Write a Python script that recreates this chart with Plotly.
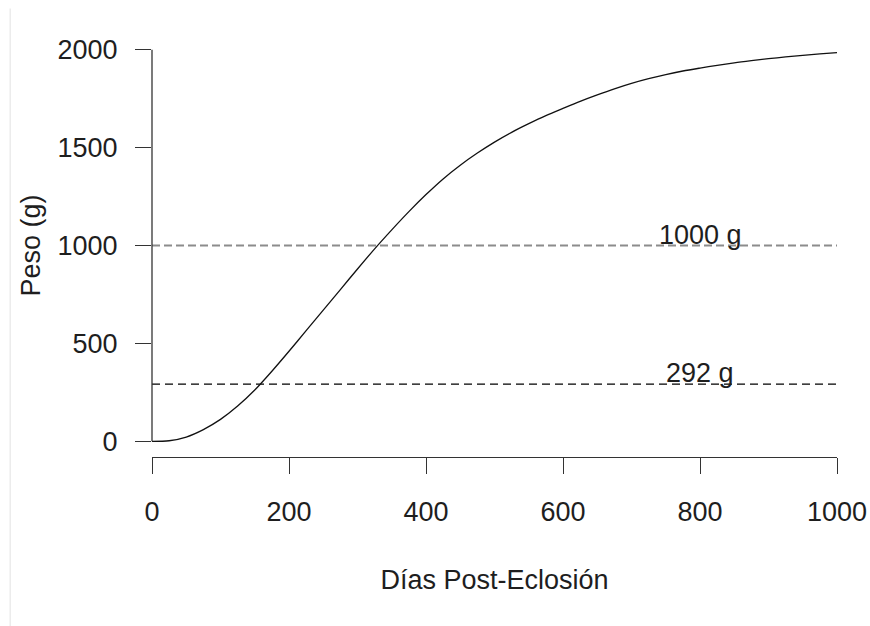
import plotly.graph_objects as go

# Growth curve: body weight (g) by days after hatching
dias = [0, 25, 50, 75, 100, 125, 150, 175, 200, 225, 250, 275, 300, 325, 350,
        375, 400, 425, 450, 475, 500, 525, 550, 575, 600, 625, 650, 675, 700,
        725, 750, 775, 800, 825, 850, 875, 900, 925, 950, 975, 1000]
peso = [0, 3, 22, 60, 112, 180, 262, 358, 460, 565, 670, 775, 880, 983, 1080,
        1173, 1260, 1340, 1410, 1472, 1528, 1578, 1622, 1663, 1700, 1736, 1769, 1800, 1828,
        1852, 1873, 1891, 1906, 1920, 1933, 1944, 1954, 1963, 1971, 1978, 1985]

# Reference weights marked with dashed lines
niveles = [1000, 292]
etiquetas = ["1000 g", "292 g"]
colores_nivel = ["#8c8c8c", "#000000"]
anchos_nivel = [2, 1.1]
guiones_nivel = ["8px,4px", "8px,5px"]
x_etiqueta = 800

x_ticks = [0, 200, 400, 600, 800, 1000]
y_ticks = [0, 500, 1000, 1500, 2000]

FONT = "Liberation Sans, Arial, sans-serif"
FS = 27
INK = "#1e1e1e"

fig = go.Figure()

# Horizontal reference lines spanning the x range
for nivel, col, w, dash in zip(niveles, colores_nivel, anchos_nivel, guiones_nivel):
    fig.add_trace(go.Scatter(
        x=[x_ticks[0], x_ticks[-1]], y=[nivel, nivel], mode="lines",
        line=dict(color=col, width=w, dash=dash), hoverinfo="skip", showlegend=False))

fig.add_trace(go.Scatter(
    x=dias, y=peso, mode="lines",
    line=dict(color="#111111", width=1.3, shape="spline", smoothing=0.8),
    showlegend=False))

for nivel, txt in zip(niveles, etiquetas):
    fig.add_annotation(x=x_etiqueta, y=nivel, text=txt, showarrow=False,
                       xanchor="center", yanchor="middle", yshift=11,
                       font=dict(family=FONT, size=FS, color=INK))

# Left axis line only between the first and last tick (base-graphics style)
fig.add_shape(type="line", xref="paper", yref="y", x0=0, x1=0,
              y0=y_ticks[0], y1=y_ticks[-1], line=dict(color="#333333", width=1.3))

# Faint border at the left of the canvas
fig.add_shape(type="line", xref="paper", yref="paper", x0=-0.207, x1=-0.207,
              y0=-0.4, y1=1.06, line=dict(color="#ececec", width=1.5))

fig.update_xaxes(
    range=[0, 1000], tickvals=x_ticks, ticktext=[str(v) for v in x_ticks],
    ticks="outside", ticklen=16, tickwidth=1.3, tickcolor="#333333",
    showline=True, linecolor="#333333", linewidth=1.3, mirror=False,
    showgrid=False, zeroline=False,
    tickfont=dict(family=FONT, size=FS, color=INK), ticklabelstandoff=14,
    title=dict(text="Días Post-Eclosión", standoff=44,
               font=dict(family=FONT, size=FS, color=INK)))

fig.update_yaxes(
    range=[-80, 2080], tickvals=y_ticks, ticktext=[str(v) for v in y_ticks],
    ticks="outside", ticklen=16, tickwidth=1.3, tickcolor="#333333",
    showline=False, showgrid=False, zeroline=False,
    tickfont=dict(family=FONT, size=FS, color=INK), ticklabelstandoff=12,
    title=dict(text="Peso (g)", standoff=9,
               font=dict(family=FONT, size=FS, color=INK)))

fig.update_layout(
    width=870, height=626,
    margin=dict(l=152, r=33, t=34, b=169, autoexpand=False),
    paper_bgcolor="white", plot_bgcolor="white",
    font=dict(family=FONT, size=FS, color=INK),
)

fig.write_html("out.html")
